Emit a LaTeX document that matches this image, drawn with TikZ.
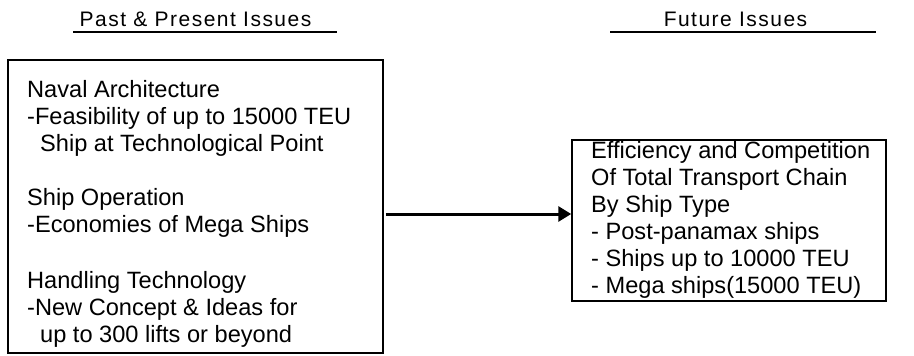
\documentclass[tikz,border=0pt]{standalone}
\usepackage{fontspec}
\setmainfont{Liberation Sans}
\newfontfamily\headfont[LetterSpace=7]{Liberation Sans}
\usetikzlibrary{arrows.meta}
\tikzset{
  panel/.style={draw=black, line width=1.5pt, fill=white, inner sep=0pt},
  bodytext/.style={anchor=base west, inner sep=0pt, font=\fontsize{23.6}{27}\selectfont},
  headtext/.style={anchor=base, inner sep=0pt, font=\headfont\fontsize{21}{25}\selectfont},
  rule/.style={line width=1.5pt},
  flow/.style={line width=3pt, -{Triangle[length=13pt,width=15pt]}}
}
\begin{document}
\begin{tikzpicture}[x=1pt,y=-1pt]
  \useasboundingbox (0,0) rectangle (914,356);

  % column headings with underlines
  \node[headtext] (hpast) at (195.5,27) {Past \& Present Issues};
  \coordinate (upa) at (73,32);
  \coordinate (upb) at (337,32);
  \draw[rule] (upa) -- (upb);
  \node[headtext] (hfut) at (735.5,27) {Future Issues};
  \coordinate (ufa) at (610,32);
  \coordinate (ufb) at (876,32);
  \draw[rule] (ufa) -- (ufb);

  % left panel
  \node[panel, minimum width=375pt, minimum height=293pt] (past) at (195.5,206.5) {};
  \node[bodytext] (p1) at (27,97)  {Naval Architecture};
  \node[bodytext] (p2) at (27,124) {-Feasibility of up to 15000 TEU};
  \node[bodytext] (p3) at (40,151) {Ship at Technological Point};
  \node[bodytext] (p4) at (27,205) {Ship Operation};
  \node[bodytext] (p5) at (27,232) {-Economies of Mega Ships};
  \node[bodytext] (p6) at (27,288) {Handling Technology};
  \node[bodytext] (p7) at (27,315) {-New Concept \& Ideas for};
  \node[bodytext] (p8) at (40,342) {up to 300 lifts or beyond};

  % right panel
  \node[panel, minimum width=314pt, minimum height=161pt] (future) at (729,220.5) {};
  \node[bodytext] (f1) at (591,158) {Efficiency and Competition};
  \node[bodytext] (f2) at (591,185) {Of Total Transport Chain};
  \node[bodytext] (f3) at (591,212) {By Ship Type};
  \node[bodytext] (f4) at (591,239) {- Post-panamax ships};
  \node[bodytext] (f5) at (591,266) {- Ships up to 10000 TEU};
  \node[bodytext] (f6) at (591,293) {- Mega ships(15000 TEU)};

  % connector
  \coordinate (src) at (past.east |- 0,214);
  \coordinate (dst) at (future.west |- 0,214);
  \draw[flow] ([xshift=2pt]src) -- (dst);
\end{tikzpicture}
\end{document}
